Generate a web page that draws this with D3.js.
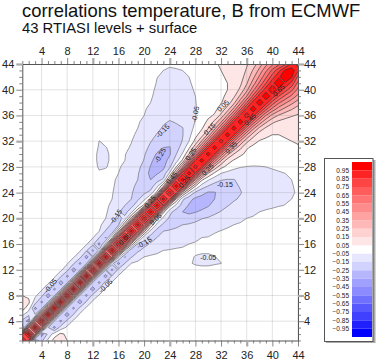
<!DOCTYPE html>
<html><head><meta charset="utf-8">
<script src="https://cdn.jsdelivr.net/npm/d3@7"></script>
<style>html,body{margin:0;padding:0;background:#fff}svg{display:block}text{font-family:"Liberation Sans",Arial,sans-serif}</style>
</head><body><div id="c"></div>
<script>
// Correlation in percent, upper triangle: level N with levels N, N+1, ...; anything not listed reads as 0.
const corr01=[100,75,-35,-18,-3,9,8,5,2];
const corr02=[100,45,-30,-13,0,7,3];
const corr03=[100,45,-14,-28,-10,-3];
const corr04=[100,42,-16,-27,-12,-3];
const corr05=[100,42,-17,-30,-14,-3];
const corr06=[100,42,-16,-27,-12,-3];
const corr07=[100,42,-17,-30,-14,-3,-1];
const corr08=[100,43,-16,-27,-12,-4,-1];
const corr09=[100,43,-17,-30,-14,-4,-1];
const corr10=[100,44,-16,-27,-12,-4,-1];
const corr11=[100,46,-16,-29,-14,-4,-1];
const corr12=[100,48,-14,-27,-13,-4.5,-2,-2,-2,-2,-2,-2,-2,-2,-2,-3,-3.5,-3.5,-3.5,-3,-2];
const corr13=[100,52,-12,-28,-15,-5,-3,-2,-2,-2,-2,-2,-3,-3,-4.5,-5.5,-6,-6,-5.5,-5.1,-3,-2];
const corr14=[100,56,-2,-26,-16,-9,-5,-4,-4,-3,-3,-3,-3,-4,-5.3,-5.5,-5.5,-5.2,-4,-2,-2];
const corr15=[100,60,5,-24,-17,-12,-8,-6,-5,-4.5,-4,-4,-4,-4,-4.5,-4.5,-4,-3,-2];
const corr16=[100,63,12,-17,-18,-14,-11,-9,-8,-7,-6,-5,-4.5,-4,-4,-3.5,-3,-2];
const corr17=[100,66,15,-12,-19,-15,-13,-11,-9,-8,-7,-6,-5,-4.8,-4,-3,-2];
const corr18=[100,68,18,-8,-19,-15,-14,-13,-12,-10,-9,-8,-6.5,-5.5,-4.8,-4,-3,-2];
const corr19=[100,70,15,-8,-17,-19,-17,-15,-14,-12,-10,-9,-8,-7,-6,-5,-4,-3,-2];
const corr20=[100,72,8,-8,-17,-22,-24,-21,-19,-15.5,-14,-12,-11,-9,-8,-7,-5,-4,-3,-2];
const corr21=[100,72,8,-12,-20,-25,-27,-25.5,-23,-20,-17,-14.5,-12,-11,-10,-8,-7,-5,-4,-3,-2];
const corr22=[100,74,8,-8,-19,-26,-28,-29,-26,-21,-18,-15.5,-13,-11,-10,-9,-8,-7,-6.5,-5.5,-4.8,-4.5,-4];
const corr23=[100,76,14,-13,-22,-27,-29,-28,-25,-22,-19,-16,-14,-12,-11,-10,-9,-8,-7,-6,-5,-4.5];
const corr24=[100,78,20,-3,-17,-22,-26,-25.5,-22,-20,-18,-15.5,-13,-12,-11,-10,-9,-8,-7,-5.5,-4.5];
const corr25=[100,80,28,5,-10,-15.5,-19,-20,-18,-16.5,-14.5,-13,-11,-10,-9,-8,-7,-6,-5.2,-4.5];
const corr26=[100,82,35,7,-4,-11,-14.5,-15.5,-15.3,-13,-12,-10,-9,-8,-7,-6.5,-6,-5,-4];
const corr27=[100,84,42,15,3,-5,-8,-10,-10,-9,-8,-7,-6.5,-6,-5.5,-5,-4,-3];
const corr28=[100,85,48,22,8,2,-2,-4.5,-5.3,-5.5,-5.3,-5,-4.5,-4,-3,-2,-1];
const corr29=[100,85,50,26,10,4,1,-1,-2,-2.5,-2.5,-2,-2,-1,0,1];
const corr30=[100,85,52,28,15,7,3,1,0,0,0,1,1,2,2];
const corr31=[100,85,54,32,18,6,3,2,2,2,2,3,3,4];
const corr32=[100,86,56,34,18,8,4.5,4,4,4,4,5,6];
const corr33=[100,86,58,36,20,9,6,5,5,6,6.5,7];
const corr34=[100,87,60,38,22,13,9,7.5,7,7.5,8];
const corr35=[100,88,62,42,27,17,13,11,10,10];
const corr36=[100,89,65,45,32,24,19,16,14];
const corr37=[100,90,68,52,40,32,26,20];
const corr38=[100,91,71,57,47,38,30];
const corr39=[100,92,75,63,53,42];
const corr40=[100,93,80,68,52];
const corr41=[100,94,82,62];
const corr42=[100,97,72];
const corr43=[100,88];
const corr44=[100];
const rows=[corr01,corr02,corr03,corr04,corr05,corr06,corr07,corr08,corr09,corr10,corr11,corr12,corr13,corr14,corr15,corr16,corr17,corr18,corr19,corr20,corr21,corr22,corr23,corr24,corr25,corr26,corr27,corr28,corr29,corr30,corr31,corr32,corr33,corr34,corr35,corr36,corr37,corr38,corr39,corr40,corr41,corr42,corr43,corr44];

const levelTicks=[4,8,12,16,20,24,28,32,36,40,44];
const xThick=[12,24,36];
const yThick=[8,20,32,44];
const posThresholds=[0.05,0.15,0.25,0.35,0.45,0.55,0.65,0.75,0.85,0.95];
const redColors=["#ffe6e6","#ffd2d2","#ffb8b8","#ffa2a2","#ff8c8c","#ff7474","#ff5c5c","#ff4444","#ff2424","#ff0000"];
const blueColors=["#e6e6ff","#d2d2ff","#b6b6ff","#a0a0ff","#8c8cff","#7070ff","#5858ff","#4040ff","#2020ff","#0000ff"];
const labelText=["-0.15","-0.25","-0.05","0.05","0.15","0.25","0.35","0.45","0.65","0.25","-0.15","0.45","0.25","0.25","0.05","0.05","-0.15","-0.15","-0.05","-0.05","-0.05"];
const labelX=[22.9,22.5,28,32.3,30.2,27.3,33.6,36.5,41,29.9,32.6,24.3,26.3,20.9,17,21.8,15.6,20,5.4,14,30];
const labelY=[33.6,29.8,36.2,37.5,33.9,30,31,35.4,39.9,27.6,25.2,26.3,25.7,22.6,16.8,19.9,20.3,16.2,9.5,9.5,13.9];
const labelAngle=[-45,-60,-80,-45,-45,-55,-45,-45,-45,-45,0,-50,-50,-50,-45,-45,-55,-30,-50,-45,0];

const W=377,H=363,L=22.3,R=298,T=64,B=340.5;
const svg=d3.select("#c").append("svg").attr("width",W).attr("height",H);
const x=d3.scaleLinear().domain([1,44]).range([L,R]);
const y=d3.scaleLinear().domain([1,44]).range([B,T]);

const n=rows.length;
const grid=new Array(n*n).fill(0);
rows.forEach((r,i)=>r.forEach((v,k)=>{grid[i+(i+k)*n]=v/100;grid[(i+k)+i*n]=v/100;}));

svg.append("defs").append("clipPath").attr("id","plot").append("rect")
  .attr("x",L).attr("y",T).attr("width",R-L).attr("height",B-T);
const g=svg.append("g").attr("clip-path","url(#plot)");
const path=d3.geoPath(d3.geoTransform({point(a,b){this.stream.point(x(a+.5),y(b+.5));}}));
const contours=d3.contours().size([n,n]);
function draw(values,colors,stroke,sw){
  contours.thresholds(posThresholds)(values).forEach((c,i)=>{
    g.append("path").attr("d",path(c)).attr("fill",colors[i]).attr("stroke",stroke).attr("stroke-width",sw);
  });
}
draw(grid,redColors,"#333",0.65);
draw(grid.map(v=>-v),blueColors,"#555",0.55);

// grid lines
const gridG=svg.append("g").attr("clip-path","url(#plot)");
levelTicks.forEach(t=>{
  gridG.append("line").attr("x1",x(t)).attr("x2",x(t)).attr("y1",T).attr("y2",B).attr("stroke","#888").attr("stroke-opacity",.3).attr("stroke-width",.8);
  gridG.append("line").attr("y1",y(t)).attr("y2",y(t)).attr("x1",L).attr("x2",R).attr("stroke","#888").attr("stroke-opacity",.3).attr("stroke-width",.8);
});

// contour labels
labelText.forEach((s,i)=>{
  svg.append("text").attr("transform",`translate(${x(labelX[i])},${y(labelY[i])}) rotate(${labelAngle[i]})`)
    .attr("text-anchor","middle").attr("dy","0.35em").attr("font-size",7).attr("fill","#222").text(s);
});

// axes
const minor=d3.range(1,45);
function axis(gen,tr){
  const a=svg.append("g").attr("transform",tr)
    .call(gen.tickValues(minor).tickSize(3).tickSizeOuter(0).tickFormat(d=>levelTicks.includes(d)?d:""));
  a.select(".domain").attr("stroke","#555").attr("stroke-width",1);
  a.selectAll(".tick line").attr("stroke","#666").attr("stroke-width",.8);
  a.selectAll(".tick text").attr("font-size",11).attr("fill","#222").style("font-family",'"Liberation Sans",Arial,sans-serif');
  return a;
}
function major(a,attr,sign,thick){
  a.selectAll(".tick").filter(d=>levelTicks.includes(d)).select("line").attr(attr,sign*6);
  a.selectAll(".tick").filter(d=>thick.includes(d)).select("line").attr("stroke","#aaa").attr("stroke-width",2.2);
}
const top_=axis(d3.axisTop(x),`translate(0,${T})`);major(top_,"y2",-1,xThick);top_.selectAll(".tick text").attr("y",-9);
const bot=axis(d3.axisBottom(x),`translate(0,${B})`);major(bot,"y2",1,xThick);bot.selectAll(".tick text").attr("y",11);
const lef=axis(d3.axisLeft(y),`translate(${L},0)`);major(lef,"x2",-1,yThick);lef.selectAll(".tick text").attr("x",-8);
const rig=axis(d3.axisRight(y),`translate(${R},0)`);major(rig,"x2",1,yThick);rig.selectAll(".tick text").attr("x",6);

// title
svg.append("text").attr("x",22).attr("y",16.7).attr("font-size",18.4).attr("fill","#111").text("correlations temperature, B from ECMWF");
svg.append("text").attr("x",22).attr("y",32.5).attr("font-size",14.8).attr("fill","#111").text("43 RTIASI levels + surface");

// legend
const ly=d3.scaleLinear().domain([1.05,-1.05]).range([162,337]);
svg.append("rect").attr("x",326).attr("y",160).attr("width",49.5).attr("height",183).attr("fill","#aaa");
svg.append("rect").attr("x",324.5).attr("y",158.5).attr("width",48.5).attr("height",183).attr("fill","#fff").attr("stroke","#555");
posThresholds.forEach((t,i)=>{
  svg.append("rect").attr("x",352).attr("width",20).attr("y",ly(t+.1)).attr("height",ly(t)-ly(t+.1)).attr("fill",redColors[i]);
  svg.append("rect").attr("x",352).attr("width",20).attr("y",ly(-t)).attr("height",ly(-t-.1)-ly(-t)).attr("fill",blueColors[i]);
  [t,-t].forEach(v=>svg.append("text").attr("x",349).attr("y",ly(v)).attr("dy","0.35em").attr("text-anchor","end").attr("font-size",6.5).attr("fill","#222").text(d3.format(".2f")(v)));
});
</script></body></html>
